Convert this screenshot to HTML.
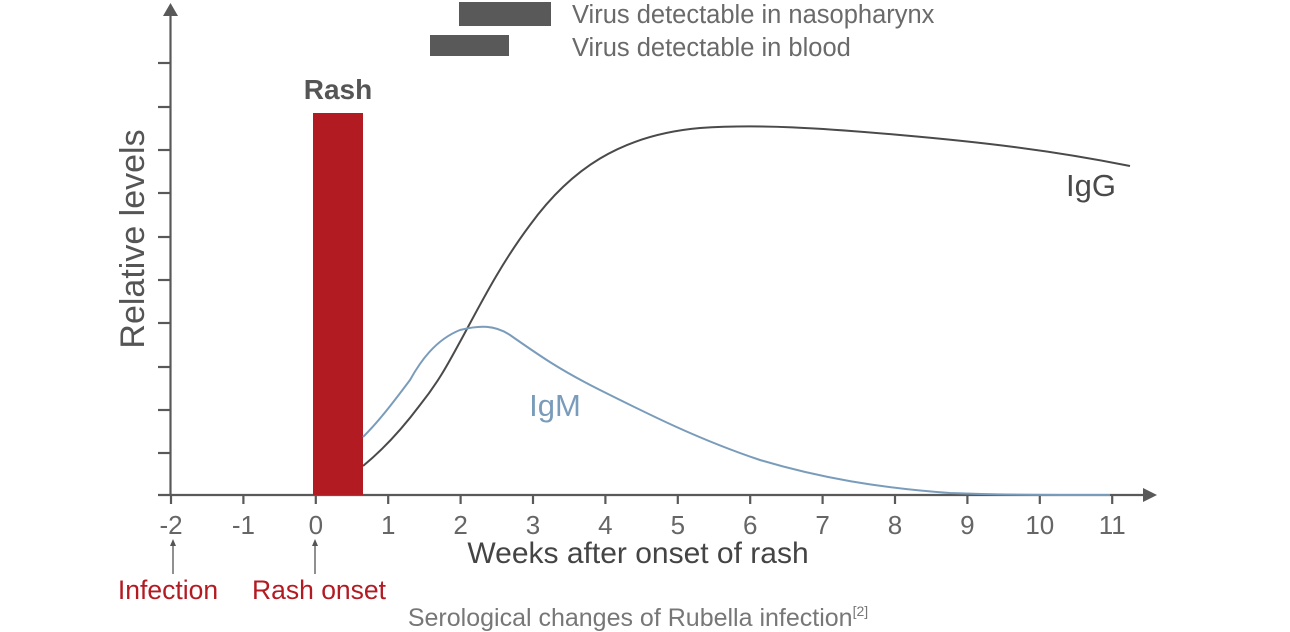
<!DOCTYPE html>
<html><head><meta charset="utf-8"><style>
html,body{margin:0;padding:0;background:#fff;}
svg{display:block;}
text{font-family:"Liberation Sans",sans-serif;}
</style></head><body>
<svg width="1290" height="632" viewBox="0 0 1290 632" xmlns="http://www.w3.org/2000/svg">
<g stroke="#595959" stroke-width="2.2" fill="none">
<line x1="170.5" y1="14" x2="170.5" y2="495"/>
<line x1="158" y1="495" x2="1145" y2="495"/>
<line x1="158" y1="63" x2="170" y2="63"/>
<line x1="158" y1="107" x2="170" y2="107"/>
<line x1="158" y1="150" x2="170" y2="150"/>
<line x1="158" y1="193" x2="170" y2="193"/>
<line x1="158" y1="237" x2="170" y2="237"/>
<line x1="158" y1="280" x2="170" y2="280"/>
<line x1="158" y1="323" x2="170" y2="323"/>
<line x1="158" y1="367" x2="170" y2="367"/>
<line x1="158" y1="410" x2="170" y2="410"/>
<line x1="158" y1="453" x2="170" y2="453"/>
<g>
<line x1="171" y1="495" x2="171" y2="504"/>
<line x1="243.4" y1="495" x2="243.4" y2="504"/>
<line x1="315.8" y1="495" x2="315.8" y2="504"/>
<line x1="388.2" y1="495" x2="388.2" y2="504"/>
<line x1="460.6" y1="495" x2="460.6" y2="504"/>
<line x1="533" y1="495" x2="533" y2="504"/>
<line x1="605.4" y1="495" x2="605.4" y2="504"/>
<line x1="677.8" y1="495" x2="677.8" y2="504"/>
<line x1="750.2" y1="495" x2="750.2" y2="504"/>
<line x1="822.6" y1="495" x2="822.6" y2="504"/>
<line x1="895" y1="495" x2="895" y2="504"/>
<line x1="967.4" y1="495" x2="967.4" y2="504"/>
<line x1="1039.8" y1="495" x2="1039.8" y2="504"/>
<line x1="1112.2" y1="495" x2="1112.2" y2="504"/>
</g>
</g>
<polygon points="170.5,3 163,16 178,16" fill="#595959"/>
<polygon points="1157,495 1143,488 1143,502" fill="#595959"/>
<rect x="313" y="113" width="50" height="382" fill="#b31b23"/>
<path d="M363,466 C385,448 405,425 420,405 C440,380 450,360 461,340 C480,305 500,265 530,225 C570,170 620,135 700,128 C760,124 820,128 900,135 C980,142 1050,150 1130,166" stroke="#4a4a4a" stroke-width="2" fill="none"/>
<path d="M363,437 C380,420 395,400 410,380 C420,362 435,340 460,330 C480,325 495,325 510,335 C540,356 560,370 600,390 C650,415 700,440 760,460 C820,478 880,488 950,493 C1000,495 1050,495 1110,495" stroke="#7a9cbb" stroke-width="2" fill="none"/>
<rect x="459" y="2" width="92" height="24" fill="#595959"/>
<rect x="430" y="35" width="79" height="21" fill="#595959"/>
<g fill="#6a6a6a" font-size="25.5">
<text x="572" y="23">Virus detectable in nasopharynx</text>
<text x="572" y="56">Virus detectable in blood</text>
</g>
<text x="338" y="99" text-anchor="middle" font-size="28" font-weight="bold" fill="#555">Rash</text>
<text x="1091" y="196" text-anchor="middle" font-size="31" fill="#4a4a4a">IgG</text>
<text x="555" y="416" text-anchor="middle" font-size="31" fill="#7a9cbb">IgM</text>
<text transform="translate(144,239) rotate(-90)" text-anchor="middle" font-size="34" fill="#555">Relative levels</text>
<g fill="#666" font-size="26" text-anchor="middle">
<text x="171" y="534">-2</text><text x="243.4" y="534">-1</text><text x="315.8" y="534">0</text>
<text x="388.2" y="534">1</text><text x="460.6" y="534">2</text><text x="533" y="534">3</text>
<text x="605.4" y="534">4</text><text x="677.8" y="534">5</text><text x="750.2" y="534">6</text>
<text x="822.6" y="534">7</text><text x="895" y="534">8</text><text x="967.4" y="534">9</text>
<text x="1039.8" y="534">10</text><text x="1112.2" y="534">11</text>
</g>
<text x="638" y="563" text-anchor="middle" font-size="30" fill="#444">Weeks after onset of rash</text>
<g stroke="#555" stroke-width="1.3">
<line x1="173" y1="543" x2="173" y2="574"/>
<line x1="315" y1="543" x2="315" y2="574"/>
</g>
<polygon points="173,539 170,546 176,546" fill="#555"/>
<polygon points="315,539 312,546 318,546" fill="#555"/>
<g fill="#b31b23" font-size="26.5" text-anchor="middle">
<text x="168" y="599">Infection</text>
<text x="319" y="599">Rash onset</text>
</g>
<text x="638" y="626" text-anchor="middle" font-size="25" fill="#777">Serological changes of Rubella infection<tspan font-size="14" dy="-10">[2]</tspan></text>
</svg>
</body></html>
